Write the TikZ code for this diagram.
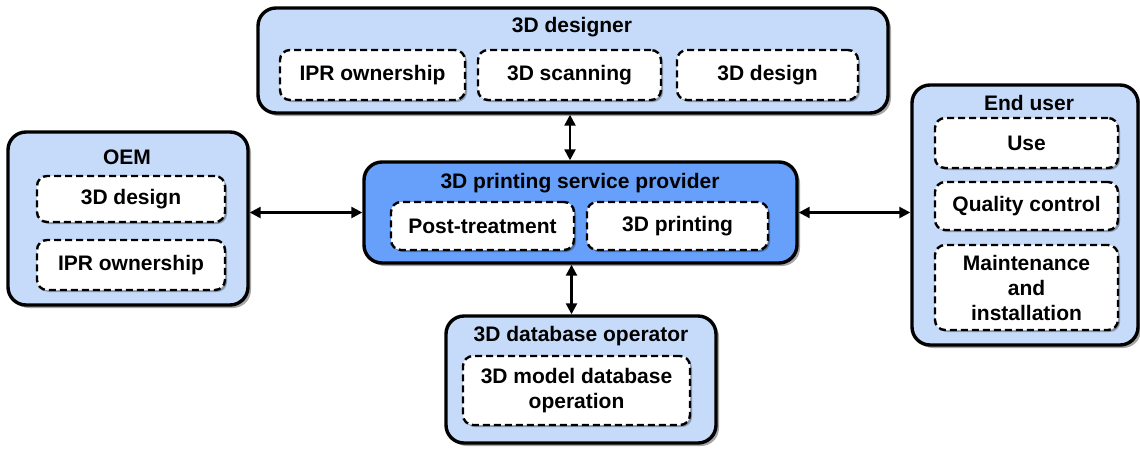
\documentclass[tikz,border=0pt]{standalone}
\usepackage{fontspec}
\setmainfont{Liberation Sans}
\usetikzlibrary{shadows,arrows.meta}
\definecolor{paleblue}{RGB}{198,219,249}
\definecolor{midblue}{RGB}{102,160,250}

\tikzset{
  actor/.style={draw,line width=3.4pt,rounded corners=18pt,fill=paleblue,inner sep=0pt,
    drop shadow={shadow xshift=3pt,shadow yshift=-3pt,fill=black,opacity=0.35}},
  task/.style={draw,line width=2.4pt,dash pattern=on 7pt off 4pt,rounded corners=10pt,
    fill=white,inner sep=0pt,align=center,font=\bfseries\fontsize{21}{25}\selectfont,
    drop shadow={shadow xshift=2pt,shadow yshift=-2pt,fill=black,opacity=0.3}},
  title/.style={font=\bfseries\fontsize{21}{25}\selectfont},
  link/.style={{Triangle[length=11pt,width=11pt]}-{Triangle[length=11pt,width=11pt]},line width=2.4pt}
}

\begin{document}
\begin{tikzpicture}[x=1pt,y=-1pt]
  \useasboundingbox (0,0) rectangle (1140,448);
  % actors
  \node[actor,minimum width=630pt,minimum height=105pt] (designer) at (573,60.5) {};
  \node[actor,minimum width=240pt,minimum height=173pt] (oem) at (128,218.5) {};
  \node[actor,fill=midblue,minimum width=433pt,minimum height=101pt] (provider) at (580.5,212.5) {};
  \node[actor,minimum width=226pt,minimum height=260pt] (enduser) at (1025,215) {};
  \node[actor,minimum width=270pt,minimum height=127pt] (dbop) at (581,379.5) {};
  % titles
  \node[title] (tdesigner) at (572,27) {3D designer};
  \node[title] (toem) at (127,157) {OEM};
  \node[title] (tprovider) at (580,183) {3D printing service provider};
  \node[title] (tenduser) at (1029,103) {End user};
  \node[title] (tdbop) at (581,336) {3D database operator};
  % tasks
  \node[task,minimum width=185pt,minimum height=50pt] (d1) at (372.5,75) {IPR ownership};
  \node[task,minimum width=183pt,minimum height=50pt] (d2) at (569.5,75) {3D scanning};
  \node[task,minimum width=181pt,minimum height=50pt] (d3) at (767.5,75) {3D design};
  \node[task,minimum width=188pt,minimum height=46pt] (o1) at (131,199) {3D design};
  \node[task,minimum width=188pt,minimum height=50pt] (o2) at (131,265) {IPR ownership};
  \node[task,minimum width=183pt,minimum height=48pt] (p1) at (482.5,226) {Post-treatment};
  \node[task,minimum width=181pt,minimum height=48pt] (p2) at (677.5,226) {3D printing};
  \node[task,minimum width=183pt,minimum height=50pt] (e1) at (1026.5,143) {Use};
  \node[task,minimum width=183pt,minimum height=48pt] (e2) at (1026.5,206) {Quality control};
  \node[task,minimum width=183pt,minimum height=85pt] (e3) at (1026.5,287.5) {Maintenance\\and\\installation};
  \node[task,minimum width=227pt,minimum height=69pt] (b1) at (576.5,390.5) {3D model database\\operation};
  % links
  \draw[link] ([xshift=-3pt]designer.south) -- ([xshift=-3pt]designer.south |- provider.north);
  \draw[link] ([xshift=-9pt]provider.south) -- ([xshift=-9pt]provider.south |- dbop.north);
  \draw[link] (oem.east |- provider.west) -- (provider.west);
  \draw[link] (provider.east) -- (provider.east -| enduser.west);
\end{tikzpicture}
\end{document}
